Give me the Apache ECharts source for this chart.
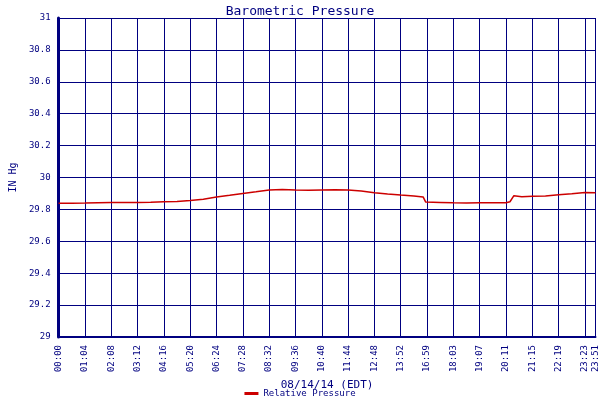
<!DOCTYPE html><html><head><meta charset="utf-8"><script src="https://cdn.jsdelivr.net/npm/echarts@6/dist/echarts.min.js"></script></head><body style="margin:0"><div id="c" style="width:600px;height:400px"></div><script>
var tickLabels=["00:00","01:04","02:08","03:12","04:16","05:20","06:24","07:28","08:32","09:36","10:40","11:44","12:48","13:52","16:59","18:03","19:07","20:11","21:15","22:19","23:23"];
var lastLabel="23:51";
var xPos=[0,0.5,1,1.5,2,2.5,3,3.5,4,4.5,5,5.5,6,6.5,7,7.5,8,8.5,9,9.5,10,10.5,11,11.5,12,12.5,13,13.5,13.85,13.95,14.5,15,15.5,16,16.5,17,17.15,17.3,17.6,18,18.5,19,19.5,20,20.4];
var pressure=[29.838,29.839,29.84,29.842,29.844,29.844,29.844,29.845,29.848,29.85,29.856,29.864,29.878,29.888,29.9,29.91,29.922,29.924,29.921,29.92,29.922,29.923,29.921,29.916,29.905,29.897,29.89,29.884,29.878,29.846,29.844,29.841,29.84,29.841,29.842,29.842,29.848,29.886,29.88,29.882,29.884,29.892,29.898,29.906,29.904];
var navy="#000080",font="DejaVu Sans Mono";
var ch=echarts.init(document.getElementById('c'));
ch.setOption({animation:false,backgroundColor:"#fff",
title:{text:"Barometric Pressure",left:"center",top:0,textStyle:{color:navy,fontFamily:font,fontSize:13,fontWeight:"normal"}},
legend:{bottom:-3,left:"center",itemWidth:14,itemHeight:3,icon:"rect",textStyle:{color:navy,fontFamily:font,fontSize:9}},
grid:{left:42,right:2,top:18,bottom:63},
xAxis:[{type:"value",min:0,max:20.4,interval:1,name:"08/14/14 (EDT)",nameLocation:"middle",nameGap:43,nameTextStyle:{color:navy,fontFamily:font,fontSize:11},
axisLine:{lineStyle:{color:navy,width:2}},axisTick:{show:false},splitLine:{lineStyle:{color:navy,width:1}},
axisLabel:{rotate:90,color:navy,fontFamily:font,fontSize:9,showMaxLabel:false,formatter:function(v){return tickLabels[Math.round(v)]||"";}}},
{type:"value",position:"bottom",min:0,max:20.4,interval:20.4,axisLine:{show:false},axisTick:{show:false},splitLine:{show:false},
axisLabel:{rotate:90,color:navy,fontFamily:font,fontSize:9,formatter:function(v){return v>20?lastLabel:"";}}}],
yAxis:{type:"value",min:29,max:31,interval:0.2,name:"IN Hg",nameLocation:"middle",nameGap:30,nameTextStyle:{color:navy,fontFamily:font,fontSize:10},
axisLine:{show:true,lineStyle:{color:navy,width:3}},axisTick:{show:false},splitLine:{lineStyle:{color:navy,width:1}},
axisLabel:{color:navy,fontFamily:font,fontSize:9,formatter:function(v){return +v.toFixed(1)+"";}}},
series:[{name:"Relative Pressure",type:"line",symbol:"none",color:"#cc0000",lineStyle:{width:1.5},data:xPos.map(function(x,i){return [x,pressure[i]];})}]
});
</script></body></html>
